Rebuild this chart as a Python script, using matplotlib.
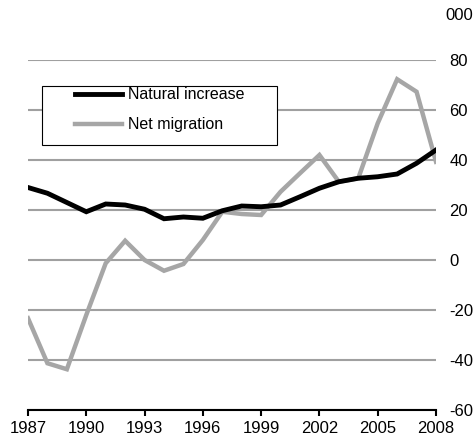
import matplotlib
matplotlib.use("Agg")
import matplotlib.pyplot as plt
from matplotlib.patches import Rectangle

plt.rcParams['font.family'] = ['Liberation Sans', 'DejaVu Sans']
plt.rcParams['axes.unicode_minus'] = False

years = list(range(1987, 2009))
natural_increase = [29.0, 26.7, 23.0, 19.3, 22.4, 22.0, 20.3, 16.5, 17.2, 16.7, 19.7,
                    21.6, 21.3, 22.0, 25.3, 28.7, 31.3, 32.7, 33.3, 34.4, 38.7, 44.0]
net_migration = [-23.3, -41.3, -43.7, -22.0, -1.3, 7.7, 0.0, -4.3, -1.6, 8.0, 19.3,
                 18.4, 18.0, 27.3, 34.7, 42.0, 31.3, 32.7, 54.7, 72.3, 67.3, 39.3]
x_ticks = [1987, 1990, 1993, 1996, 1999, 2002, 2005, 2008]
y_ticks = [-60, -40, -20, 0, 20, 40, 60, 80]
title = "Components of population growth"
unit_label = "000"
series_labels = ["Natural increase", "Net migration"]

W, H = 477, 448
fig = plt.figure(figsize=(W / 100, H / 100), dpi=100)
ax = fig.add_axes([28 / W, (H - 410) / H, 408 / W, 350 / H])

ax.plot(years, natural_increase, color='black', lw=3.5, label=series_labels[0],
        solid_joinstyle='miter', zorder=4)
ax.plot(years, net_migration, color='#a6a6a6', lw=3.2, label=series_labels[1],
        solid_joinstyle='miter', zorder=3)

ax.set_xlim(1987, 2008)
ax.set_ylim(-60, 80)
ax.set_xticks(x_ticks)
ax.set_xticklabels([str(t) for t in x_ticks], fontsize=12)
ax.set_yticks(y_ticks)
ax.set_yticklabels([str(t) for t in y_ticks], fontsize=12)
ax.yaxis.tick_right()
ax.tick_params(axis='y', length=0, pad=9.5)
ax.tick_params(axis='x', direction='out', length=4, width=1.5, pad=4)

for s in ['top', 'left', 'right']:
    ax.spines[s].set_visible(False)
ax.spines['bottom'].set_color('black')
ax.spines['bottom'].set_linewidth(1.5)
ax.spines['bottom'].set_zorder(5)

ax.grid(axis='y', color='#a0a0a0', lw=1.5, zorder=1)
ax.set_axisbelow(True)

# legend box
ax.add_patch(Rectangle((14 / 408, (410 - 145) / 350), 235 / 408, 59 / 350,
                       transform=ax.transAxes, facecolor='white', edgecolor='black',
                       lw=0.8, zorder=6))
leg = ax.legend(loc='upper left', bbox_to_anchor=(44 / 408, (410 - 84) / 350),
                frameon=False, fontsize=11.5, handlelength=2.9, handletextpad=0.4,
                labelspacing=0.95, borderpad=0.2, borderaxespad=0)
leg.set_zorder(7)

fig.text(445 / W, 1 - 15 / H, unit_label, fontsize=12, ha='left', va='center')
fig.text(16 / W, 1 + 3.5 / H, title, fontsize=14.5, fontweight='bold', ha='left',
         va='baseline')

fig.savefig('out.png', dpi=100)
